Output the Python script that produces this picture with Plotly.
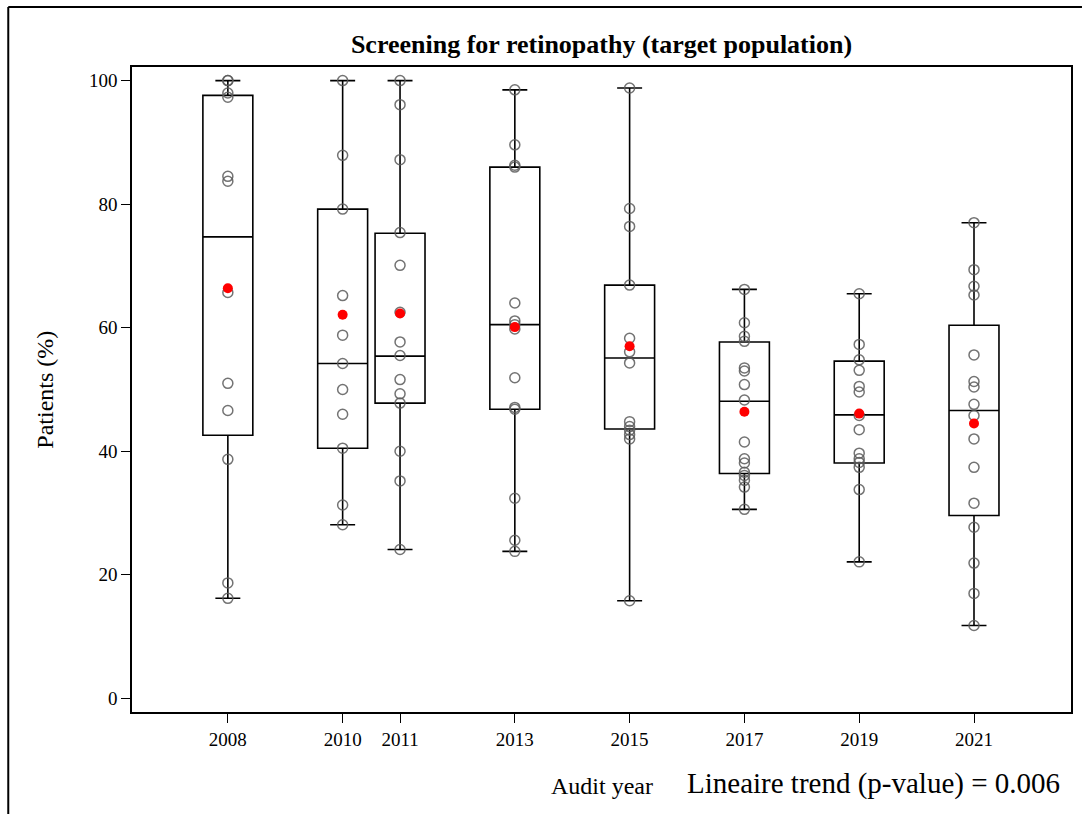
import plotly.graph_objects as go

# Audit years shown on the x axis
years = [2008, 2010, 2011, 2013, 2015, 2017, 2019, 2021]
year_labels = ["2008", "2010", "2011", "2013", "2015", "2017", "2019", "2021"]

# Per-centre screening percentages for each audit year
pts_2008 = [100, 100, 98.0, 97.3, 84.5, 83.7, 65.7, 51.0, 46.6, 38.7, 18.7, 16.2]
pts_2010 = [100, 87.9, 79.2, 65.2, 58.8, 54.2, 50.0, 46.0, 40.5, 31.3, 28.1]
pts_2011 = [100, 96.1, 87.2, 75.4, 70.1, 62.5, 57.7, 55.5, 51.6, 49.3, 47.8, 40.0, 35.2, 24.1]
pts_2013 = [98.5, 89.6, 86.3, 86.0, 64.0, 61.1, 60.5, 59.8, 51.9, 47.1, 46.8, 32.4, 25.6, 23.8]
pts_2015 = [98.8, 79.3, 76.4, 66.9, 58.3, 56.1, 54.3, 44.8, 44.0, 43.4, 42.7, 42.0, 15.8]
pts_2017 = [66.2, 60.8, 58.6, 57.8, 53.5, 53.0, 50.8, 48.3, 41.5, 38.8, 38.1, 36.6, 36.1, 35.3, 34.2, 30.6]
pts_2019 = [65.5, 57.3, 54.8, 53.1, 50.5, 49.6, 45.8, 43.5, 39.7, 38.8, 38.2, 37.4, 33.8, 22.1]
pts_2021 = [77.0, 69.4, 66.7, 65.3, 55.6, 51.3, 50.4, 47.6, 45.8, 42.0, 37.4, 31.6, 27.7, 21.9, 17.0, 11.8]

# Box statistics per year
q1 = [42.6, 40.5, 47.8, 46.8, 43.6, 36.4, 38.1, 29.6]
median = [74.7, 54.2, 55.4, 60.5, 55.1, 48.1, 45.9, 46.6]
q3 = [97.6, 79.2, 75.3, 86.0, 66.9, 57.7, 54.6, 60.4]

# Overall (pooled) mean per year
means = [66.4, 62.1, 62.3, 60.1, 57.0, 46.4, 46.1, 44.5]

all_pts = [pts_2008, pts_2010, pts_2011, pts_2013, pts_2015, pts_2017, pts_2019, pts_2021]

FONT = "Liberation Serif, Times New Roman, serif"

fig = go.Figure()

fig.add_trace(go.Box(
    x=years,
    q1=q1,
    median=median,
    q3=q3,
    lowerfence=[min(p) for p in all_pts],
    upperfence=[max(p) for p in all_pts],
    width=0.87,
    whiskerwidth=0.5,
    fillcolor="white",
    line=dict(color="black", width=1.6),
    boxpoints=False,
    showlegend=False,
    hoverinfo="skip",
))

px, py = [], []
for yr, pts in zip(years, all_pts):
    px.extend([yr] * len(pts))
    py.extend(pts)

fig.add_trace(go.Scatter(
    x=px, y=py,
    mode="markers",
    marker=dict(symbol="circle-open", size=10, color="rgba(90,90,90,0.85)",
                line=dict(width=1.5, color="rgba(90,90,90,0.85)")),
    showlegend=False,
    hoverinfo="skip",
))

fig.add_trace(go.Scatter(
    x=years, y=means,
    mode="markers",
    marker=dict(symbol="circle", size=10, color="red"),
    showlegend=False,
    hoverinfo="skip",
))

axis_common = dict(
    showline=True, mirror=True, linecolor="black", linewidth=1.6,
    showgrid=False, zeroline=False,
    ticks="outside", ticklen=9, tickwidth=1.3, tickcolor="black",
    tickfont=dict(family=FONT, size=19, color="black"),
)

fig.update_xaxes(
    range=[2006.33, 2022.69],
    tickvals=years, ticktext=year_labels,
    **axis_common,
)
fig.update_yaxes(
    range=[-2.2, 102.2],
    tickvals=[0, 20, 40, 60, 80, 100],
    **axis_common,
)

fig.update_layout(
    width=1084, height=814,
    margin=dict(l=132, r=11, t=67, b=102),
    paper_bgcolor="white",
    plot_bgcolor="white",
    font=dict(family=FONT, color="black"),
    title=dict(
        text="<b>Screening for retinopathy (target population)</b>",
        font=dict(family=FONT, size=26, color="black"),
        x=0.5, xref="paper", xanchor="center",
        y=1 - 44 / 814, yref="container", yanchor="middle",
    ),
    annotations=[
        dict(text="Patients (%)", textangle=-90, showarrow=False,
             xref="paper", yref="paper", x=(44 - 132) / 941, y=0.5,
             xanchor="center", yanchor="middle",
             font=dict(family=FONT, size=24, color="black")),
        dict(text="Audit year", showarrow=False,
             xref="paper", yref="paper", x=0.5, y=(712 - 786) / 645,
             xanchor="center", yanchor="middle",
             font=dict(family=FONT, size=24, color="black")),
        dict(text="Lineaire trend (p-value) = 0.006", showarrow=False,
             xref="paper", yref="paper", x=(1064 - 132) / 941, y=(712 - 783) / 645,
             xanchor="right", yanchor="middle",
             font=dict(family=FONT, size=29, color="black")),
    ],
    shapes=[
        dict(type="line", xref="paper", yref="paper",
             x0=(8 - 132) / 941, x1=(1084 - 132) / 941,
             y0=(712 - 7) / 645, y1=(712 - 7) / 645,
             line=dict(color="black", width=2)),
        dict(type="line", xref="paper", yref="paper",
             x0=(8 - 132) / 941, x1=(8 - 132) / 941,
             y0=(712 - 7) / 645, y1=(712 - 814) / 645,
             line=dict(color="black", width=2)),
    ],
)

fig.write_html("out.html")
